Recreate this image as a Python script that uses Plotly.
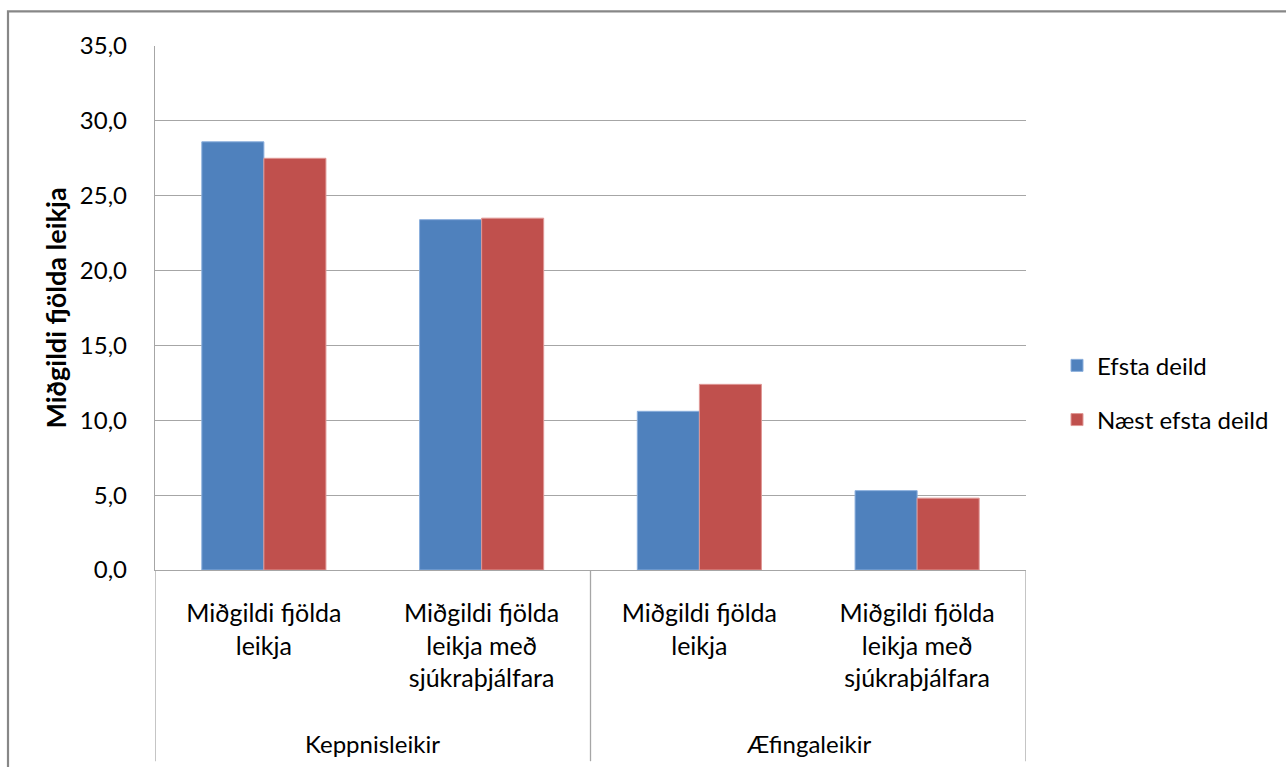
import plotly.graph_objects as go

groups = ["Keppnisleikir", "Keppnisleikir", "Æfingaleikir", "Æfingaleikir"]
sub_labels = ["Miðgildi fjölda<br>leikja",
              "Miðgildi fjölda<br>leikja með<br>sjúkraþjálfara",
              "Miðgildi fjölda<br>leikja",
              "Miðgildi fjölda<br>leikja með<br>sjúkraþjálfara"]
group_names = ["Keppnisleikir", "Æfingaleikir"]
efsta = [28.6, 23.4, 10.6, 5.3]
naest = [27.5, 23.5, 12.4, 4.8]
series_names = ["Efsta deild", "Næst efsta deild"]
y_ticks = [0, 5, 10, 15, 20, 25, 30, 35]

W, H = 1286, 767
L, R, T, B = 155, 1026, 45.7, 570.5
pw, ph = R - L, B - T

def px_x(p):
    return (p - L) / pw

def px_y(p):
    return (B - p) / ph

FONT = "Lato, 'Open Sans', sans-serif"
idx = list(range(len(sub_labels)))

fig = go.Figure()
fig.add_trace(go.Bar(x=idx, y=efsta, name=series_names[0], legendgroup="a",
                     marker=dict(color="#4F81BD", line=dict(color="#8AAEDC", width=1))))
fig.add_trace(go.Bar(x=idx, y=naest, name=series_names[1], legendgroup="b",
                     marker=dict(color="#C0504D", line=dict(color="#E09896", width=1))))

shapes = []
# category separators below the axis
for xv in [-0.5, 1.5, 3.5]:
    shapes.append(dict(type="line", xref="x", yref="paper", x0=xv, x1=xv,
                       y0=0, y1=px_y(762), line=dict(color="#A6A6A6", width=1.3)))
# outer chart border
shapes.append(dict(type="rect", xref="paper", yref="paper",
                   x0=px_x(8), x1=px_x(1300), y0=px_y(11), y1=px_y(800),
                   line=dict(color="#878787", width=2.2), layer="below"))

annotations = []
for i, g in enumerate(group_names):
    annotations.append(dict(x=2 * i + 0.5, xref="x", y=px_y(744), yref="paper",
                            text=g, showarrow=False, yanchor="middle",
                            font=dict(family=FONT, size=24, color="#000000")))

fig.update_layout(
    width=W, height=H,
    margin=dict(l=L, r=W - R, t=T, b=H - B, pad=0),
    paper_bgcolor="white", plot_bgcolor="white",
    separators=",.",
    barmode="group", bargap=0.43, bargroupgap=0,
    font=dict(family=FONT, size=24, color="#000000"),
    xaxis=dict(range=[-0.5, 3.5], tickmode="array", tickvals=idx, ticktext=sub_labels,
               showgrid=False, zeroline=False, showline=True, linecolor="#A6A6A6",
               linewidth=1.3, ticks="", ticklabelstandoff=21,
               tickfont=dict(family=FONT, size=25, color="#000000")),
    yaxis=dict(range=[0, 35], tickmode="array", tickvals=y_ticks, tickformat=".1f",
               showgrid=True, gridcolor="#A6A6A6", gridwidth=1.3,
               zeroline=False, showline=True, linecolor="#A6A6A6", linewidth=1.3,
               ticks="", ticklabelstandoff=22,
               tickfont=dict(family=FONT, size=24, color="#000000"),
               title=dict(text="<b>Miðgildi fjölda leikja</b>", standoff=5,
                          font=dict(family=FONT, size=27, color="#000000"))),
    legend=dict(x=px_x(1057), y=px_y(393), xanchor="left", yanchor="middle",
                font=dict(family=FONT, size=24, color="#000000"),
                tracegroupgap=20, traceorder="grouped", bgcolor="rgba(0,0,0,0)"),
    shapes=shapes, annotations=annotations,
)

fig.write_html("out.html")
